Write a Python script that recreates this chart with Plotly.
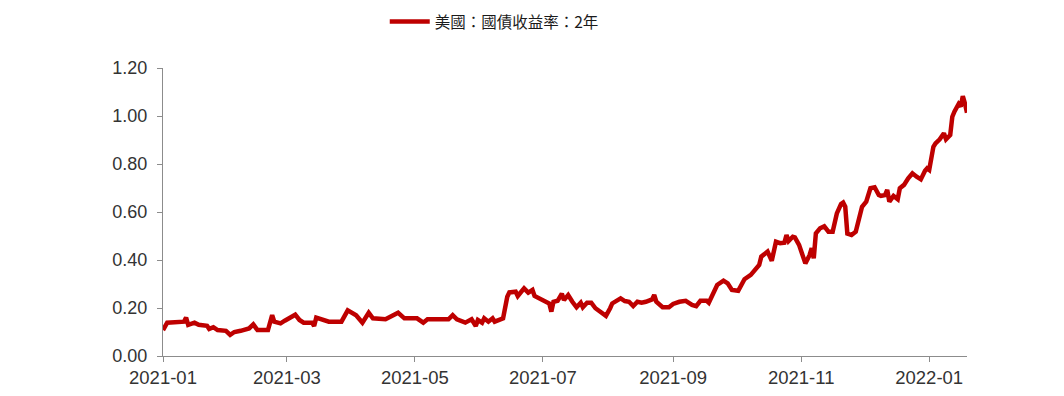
import plotly.graph_objects as go

dates = [
    "2021-01-01", "2021-01-03", "2021-01-11", "2021-01-12", "2021-01-13", "2021-01-16", "2021-01-18",
    "2021-01-22", "2021-01-23", "2021-01-25", "2021-01-27", "2021-01-31", "2021-02-02", "2021-02-04",
    "2021-02-07", "2021-02-11", "2021-02-13", "2021-02-15", "2021-02-20", "2021-02-22", "2021-02-23",
    "2021-02-26", "2021-02-28", "2021-03-02", "2021-03-05", "2021-03-07", "2021-03-09", "2021-03-13",
    "2021-03-14", "2021-03-15", "2021-03-18", "2021-03-21", "2021-03-27", "2021-03-30", "2021-04-03",
    "2021-04-06", "2021-04-09", "2021-04-11", "2021-04-17", "2021-04-23", "2021-04-26", "2021-05-02",
    "2021-05-05", "2021-05-07", "2021-05-17", "2021-05-19", "2021-05-21", "2021-05-25", "2021-05-28",
    "2021-05-30", "2021-05-31", "2021-06-02", "2021-06-03", "2021-06-05", "2021-06-07", "2021-06-08",
    "2021-06-12", "2021-06-14", "2021-06-15", "2021-06-18", "2021-06-19", "2021-06-22", "2021-06-24",
    "2021-06-26", "2021-06-27", "2021-06-30", "2021-07-04", "2021-07-05", "2021-07-06", "2021-07-08",
    "2021-07-10", "2021-07-11", "2021-07-13", "2021-07-15", "2021-07-17", "2021-07-19", "2021-07-20",
    "2021-07-22", "2021-07-24", "2021-07-26", "2021-07-28", "2021-07-31", "2021-08-02", "2021-08-03",
    "2021-08-07", "2021-08-09", "2021-08-11", "2021-08-13", "2021-08-15", "2021-08-17", "2021-08-19",
    "2021-08-22", "2021-08-23", "2021-08-24", "2021-08-27", "2021-08-30", "2021-09-01", "2021-09-04",
    "2021-09-07", "2021-09-10", "2021-09-12", "2021-09-14", "2021-09-17", "2021-09-18", "2021-09-22",
    "2021-09-25", "2021-09-27", "2021-09-29", "2021-10-02", "2021-10-05", "2021-10-08", "2021-10-10",
    "2021-10-12", "2021-10-13", "2021-10-16", "2021-10-18", "2021-10-20", "2021-10-22", "2021-10-24",
    "2021-10-25", "2021-10-26", "2021-10-28", "2021-10-29", "2021-10-31", "2021-11-02", "2021-11-03",
    "2021-11-05", "2021-11-06", "2021-11-07", "2021-11-08", "2021-11-10", "2021-11-12", "2021-11-14",
    "2021-11-16", "2021-11-18", "2021-11-20", "2021-11-21", "2021-11-22", "2021-11-23", "2021-11-25",
    "2021-11-27", "2021-11-29", "2021-11-30", "2021-12-02", "2021-12-04", "2021-12-06", "2021-12-08",
    "2021-12-09", "2021-12-11", "2021-12-12", "2021-12-13", "2021-12-15", "2021-12-17", "2021-12-18",
    "2021-12-20", "2021-12-22", "2021-12-24", "2021-12-26", "2021-12-28", "2021-12-30", "2021-12-31",
    "2022-01-01", "2022-01-03", "2022-01-04", "2022-01-06", "2022-01-08", "2022-01-09", "2022-01-11",
    "2022-01-12", "2022-01-13", "2022-01-15", "2022-01-16", "2022-01-17", "2022-01-18", "2022-01-19",
]

yields_2y = [
    0.108, 0.139, 0.143, 0.160, 0.130, 0.139, 0.130,
    0.126, 0.113, 0.120, 0.108, 0.105, 0.088, 0.100,
    0.105, 0.115, 0.132, 0.108, 0.108, 0.170, 0.143,
    0.136, 0.147, 0.157, 0.172, 0.150, 0.139, 0.139,
    0.125, 0.160, 0.153, 0.143, 0.143, 0.190, 0.170,
    0.139, 0.180, 0.157, 0.153, 0.180, 0.157, 0.157,
    0.139, 0.153, 0.153, 0.170, 0.153, 0.139, 0.153,
    0.125, 0.150, 0.139, 0.157, 0.143, 0.157, 0.143,
    0.157, 0.247, 0.265, 0.268, 0.250, 0.282, 0.264,
    0.275, 0.250, 0.236, 0.219, 0.185, 0.226, 0.230,
    0.260, 0.233, 0.254, 0.226, 0.203, 0.222, 0.203,
    0.222, 0.222, 0.199, 0.185, 0.167, 0.199, 0.219,
    0.240, 0.229, 0.226, 0.208, 0.226, 0.222, 0.226,
    0.236, 0.254, 0.226, 0.203, 0.203, 0.217, 0.226,
    0.230, 0.213, 0.208, 0.230, 0.230, 0.222, 0.296,
    0.314, 0.303, 0.275, 0.272, 0.320, 0.338, 0.361,
    0.379, 0.414, 0.435, 0.397, 0.476, 0.470, 0.472,
    0.504, 0.479, 0.497, 0.494, 0.463, 0.400, 0.386,
    0.420, 0.449, 0.407, 0.511, 0.532, 0.540, 0.518,
    0.518, 0.594, 0.633, 0.639, 0.622, 0.510, 0.504,
    0.518, 0.594, 0.622, 0.643, 0.699, 0.703, 0.671,
    0.667, 0.671, 0.692, 0.643, 0.667, 0.653, 0.699,
    0.713, 0.740, 0.761, 0.747, 0.736, 0.772, 0.782,
    0.775, 0.872, 0.886, 0.903, 0.928, 0.903, 0.921,
    0.997, 1.018, 1.050, 1.039, 1.083, 1.053, 1.014,
]

series_name = "美國：國債收益率：2年"
x_ticks = ["2021-01-01", "2021-03-01", "2021-05-01", "2021-07-01", "2021-09-01", "2021-11-01", "2022-01-01"]
x_tick_labels = ["2021-01", "2021-03", "2021-05", "2021-07", "2021-09", "2021-11", "2022-01"]
y_ticks = [0.0, 0.2, 0.4, 0.6, 0.8, 1.0, 1.2]
y_tick_labels = ["0.00", "0.20", "0.40", "0.60", "0.80", "1.00", "1.20"]

fig = go.Figure()
fig.add_trace(go.Scatter(
    x=dates, y=yields_2y, mode="lines", name=series_name,
    line=dict(color="#BE0000", width=4.5),
))

fig.update_layout(
    width=1064, height=396,
    margin=dict(l=163, r=97, t=68, b=40, autoexpand=False),
    paper_bgcolor="white", plot_bgcolor="white",
    font=dict(family="Liberation Sans, Arial, 'Noto Sans CJK TC', sans-serif", color="#262626"),
    showlegend=True,
    legend=dict(
        orientation="h", x=0.412, xanchor="center", y=1.16, yanchor="middle",
        font=dict(family="'Noto Sans CJK TC', sans-serif", size=15.5, color="#1a1a1a"),
        bgcolor="rgba(0,0,0,0)", itemwidth=40,
    ),
    xaxis=dict(
        type="date", range=["2021-01-01", "2022-01-19"], automargin=False,
        tickmode="array", tickvals=x_ticks, ticktext=x_tick_labels,
        showgrid=False, zeroline=False,
        showline=True, linecolor="#8c8c8c", linewidth=1,
        ticks="outside", ticklen=5, tickcolor="#8c8c8c",
        tickfont=dict(size=18.5, color="#333333"),
    ),
    yaxis=dict(
        range=[0, 1.2], automargin=False,
        tickmode="array", tickvals=y_ticks, ticktext=y_tick_labels,
        showgrid=False, zeroline=False,
        showline=True, linecolor="#8c8c8c", linewidth=1,
        ticks="outside", ticklen=5, tickcolor="#8c8c8c",
        tickfont=dict(size=18, color="#333333"),
        ticklabelstandoff=6,
    ),
)

fig.write_html("out.html")
